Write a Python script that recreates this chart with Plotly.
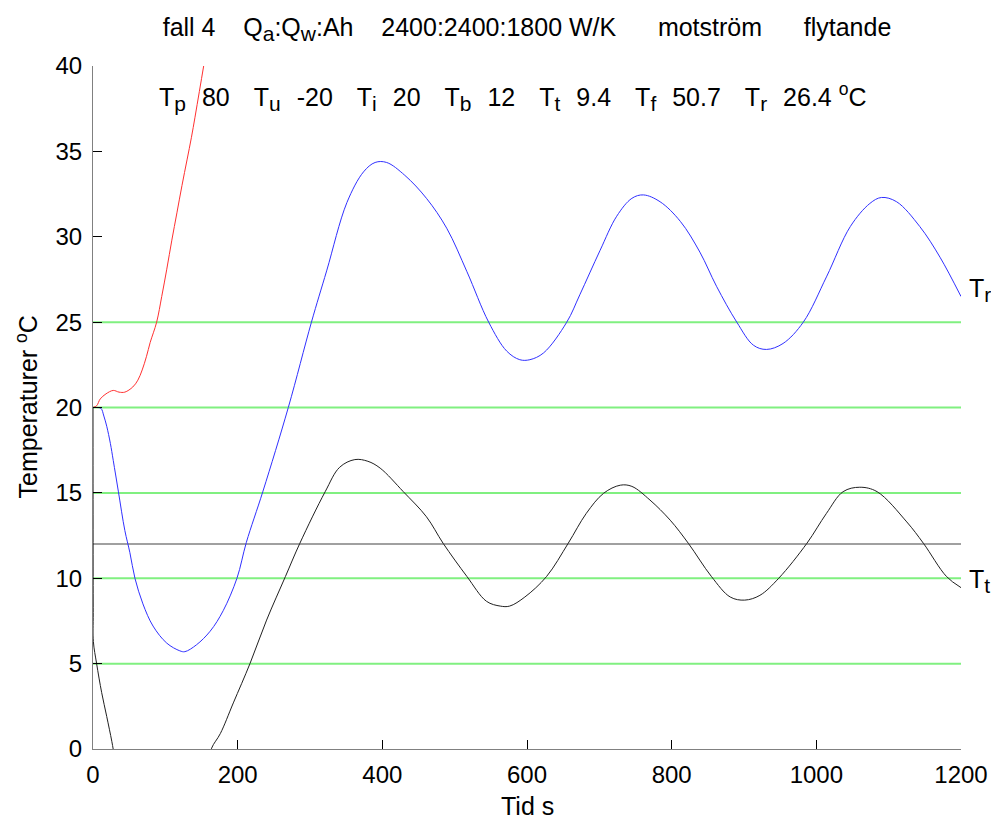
import plotly.graph_objects as go

# ---- data ----
t_p = [0, 5, 10, 18, 28, 36, 44, 55, 62, 68, 74, 79, 88, 95, 102, 109, 116, 123, 130, 136, 141, 147, 153, 158]
T_p = [20, 20.1, 20.5, 20.8, 21.0, 20.9, 20.9, 21.2, 21.6, 22.2, 23.0, 23.8, 25.0, 26.5, 28.1, 29.8, 31.4, 33.0, 34.5, 35.8, 37.0, 38.5, 40.0, 41.3]

t_r = [0, 5, 11, 15, 19, 24, 28, 35, 44, 51, 58, 69, 83, 102, 120, 127, 143, 162, 180, 199, 212, 235, 270, 302,
       323, 351, 374, 390, 406, 431, 461, 489, 517, 547, 572, 590, 604, 623, 655, 673, 701, 724, 745, 761, 784,
       812, 839, 862, 890, 913, 931, 954, 982, 1014, 1047, 1074, 1090, 1111, 1143, 1171, 1200]
T_r = [20, 20, 19.95, 19.5, 18.9, 17.9, 16.9, 15.1, 12.8, 11.5, 10.0, 8.5, 7.2, 6.2, 5.75, 5.7, 6.1, 6.9, 8.1, 10.0,
       12.1, 15.1, 20.0, 25.0, 28.0, 32.0, 33.8, 34.35, 34.35, 33.6, 32.25, 30.5, 27.95, 25.0, 23.3, 22.8, 22.8,
       23.2, 25.0, 26.6, 29.2, 31.2, 32.25, 32.45, 32.05, 30.9, 29.1, 27.1, 25.0, 23.65, 23.4, 23.75, 25.0, 27.65,
       30.6, 31.95, 32.3, 32.05, 30.6, 28.8, 26.5]

t_t = [0, 0.3, 0.5, 5, 12, 19, 26, 30, 40, 60, 90, 120, 145, 160, 164, 176, 194, 217, 240, 266, 286, 321, 341,
       362, 380, 397, 429, 461, 484, 517, 544, 563, 576, 597, 627, 657, 682, 706, 729, 745, 770, 798, 823, 855,
       881, 901, 922, 948, 987, 1014, 1037, 1060, 1084, 1125, 1148, 1180, 1200]
T_t = [20, 8.0, 6.3, 5.0, 3.3, 1.9, 0.45, -0.5, -2.5, -5.5, -7.5, -6.5, -3.0, -0.8, 0.05, 0.9, 2.7, 5.0, 7.55,
       10.1, 12.05, 15.07, 16.5, 16.95, 16.85, 16.45, 15.07, 13.6, 12.05, 10.1, 8.65, 8.37, 8.37, 8.9, 10.1, 12.05,
       13.8, 14.98, 15.45, 15.38, 14.58, 13.4, 12.05, 10.1, 8.9, 8.72, 9.0, 10.0, 12.05, 13.8, 15.07, 15.33, 15.07,
       13.3, 12.05, 10.1, 9.45]

green_levels = [5, 10, 15, 20, 25]
T_b = 12
x_span = [0, 1200]

x_ticks = [0, 200, 400, 600, 800, 1000, 1200]
y_ticks = [0, 5, 10, 15, 20, 25, 30, 35, 40]

info_names = ["p", "u", "i", "b", "t", "f", "r"]
info_values = ["80", "-20", "20", "12", "9.4", "50.7", "26.4"]

NB = "\u00a0"


def sub(s):
    return "<sub><span style='font-size:120%'>" + s + "</span></sub>"


def gap(n):
    return "<span style='font-size:115%'>" + NB * n + "</span>"


title_text = ("fall 4" + NB * 4 + "Q" + sub("a") + ":Q" + sub("w") + ":Ah" + NB * 4 + "2400:2400:1800 W/K"
              + NB * 6 + "motström" + NB * 6 + "flytande")
info_text = gap(3).join("T" + sub(n) + gap(2) + v for n, v in zip(info_names, info_values)) + " <sup>o</sup>C"

FONT = "Liberation Sans, Arial, sans-serif"
fig = go.Figure()

for lv in green_levels:
    fig.add_trace(go.Scatter(x=x_span, y=[lv, lv], mode="lines",
                             line=dict(color="#80f080", width=2), hoverinfo="skip"))
fig.add_trace(go.Scatter(x=x_span, y=[T_b, T_b], mode="lines",
                         line=dict(color="#808080", width=1.5), hoverinfo="skip"))
fig.add_trace(go.Scatter(x=t_p, y=T_p, mode="lines", line=dict(color="#ff3030", width=1, shape="spline")))
fig.add_trace(go.Scatter(x=t_r, y=T_r, mode="lines", line=dict(color="#3030ff", width=1, shape="spline")))
fig.add_trace(go.Scatter(x=t_t, y=T_t, mode="lines", line=dict(color="#202020", width=1, shape="spline")))

fig.update_layout(
    width=991, height=819,
    margin=dict(l=93, r=30, t=66, b=70, autoexpand=False),
    paper_bgcolor="white", plot_bgcolor="white",
    showlegend=False,
    font=dict(family=FONT, size=24, color="black"),
    title=dict(text=title_text, x=0.5, xref="paper", xanchor="center",
               y=1 - 27 / 819, yref="container", yanchor="middle",
               font=dict(family=FONT, size=25, color="black")),
)
fig.update_xaxes(range=[0, 1200], tickvals=x_ticks, ticks="inside", ticklen=9, tickcolor="black",
                 showline=True, linecolor="#808080", linewidth=1, showgrid=False, zeroline=False,
                 ticklabelstandoff=4, tickfont=dict(size=24), automargin=False)
fig.update_yaxes(range=[0, 40], tickvals=y_ticks, ticks="inside", ticklen=9, tickcolor="black",
                 showline=True, linecolor="#808080", linewidth=1, showgrid=False, zeroline=False,
                 ticklabelstandoff=5, tickfont=dict(size=24), automargin=False)

fig.add_annotation(text="Tid s", xref="paper", yref="paper", x=0.5, y=0, yshift=-57,
                   xanchor="center", yanchor="middle", showarrow=False, font=dict(size=25))
fig.add_annotation(text="Temperaturer <sup>o</sup>C", xref="paper", yref="paper", x=0, y=0.5, xshift=-67,
                   xanchor="center", yanchor="middle", textangle=-90, showarrow=False, font=dict(size=25))
fig.add_annotation(text=info_text, x=88, y=38.2, xanchor="left", yanchor="middle",
                   showarrow=False, font=dict(size=25))
fig.add_annotation(text="T" + sub("r"), x=1200, xshift=6, y=T_r[-1] + 0.4, xanchor="left", yanchor="middle",
                   showarrow=False, font=dict(size=25))
fig.add_annotation(text="T" + sub("t"), x=1200, xshift=6, y=T_t[-1] + 0.4, xanchor="left", yanchor="middle",
                   showarrow=False, font=dict(size=25))

fig.write_html("out.html", config={"displayModeBar": False},
               post_script="document.body.style.margin='0';")
